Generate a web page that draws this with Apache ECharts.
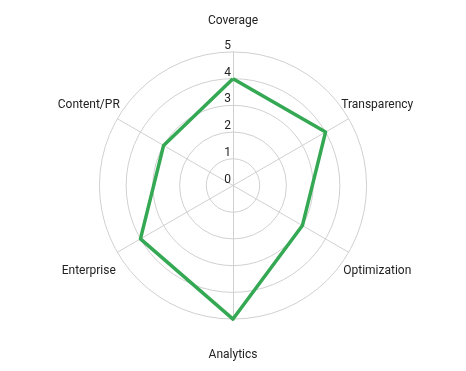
<!DOCTYPE html>
<html>
<head>
<meta charset="utf-8">
<script src="https://cdn.jsdelivr.net/npm/echarts@6/dist/echarts.min.js"></script>
<style>html,body{margin:0;padding:0;background:#fff}#c{width:466px;height:371px}</style>
</head>
<body>
<div id="c"></div>
<script>
// clockwise from top
const categories = ['Coverage', 'Transparency', 'Optimization', 'Analytics', 'Enterprise', 'Content/PR'];
const values = [4, 4, 3, 5, 4, 3];
const maxValue = 5;

// ECharts radar runs counter-clockwise; reorder so the picture runs clockwise
const order = [0].concat(categories.map((_, i) => i).slice(1).reverse());
const radarCats = order.map(i => categories[i]);
const radarVals = order.map(i => values[i]);

const chart = echarts.init(document.getElementById('c'), null, {renderer: 'canvas'});
chart.setOption({
  animation: false,
  textStyle: {fontFamily: 'Roboto'},
  radar: {
    center: ['50%', '50%'],
    radius: '72%',
    startAngle: 90,
    splitNumber: 5,
    shape: 'circle',
    nameGap: 33,
    axisName: {
      color: '#222', fontSize: 12, fontFamily: 'Roboto', align: 'center', verticalAlign: 'middle',
      formatter: n => '{a|' + n + '}',
      rich: {a: {color: '#222', fontSize: 12, fontFamily: 'Roboto', padding: [5, 0, 0, 0]}}
    },
    splitArea: {show: false},
    splitLine: {lineStyle: {color: '#d0d0d0', width: 1}},
    axisLine: {lineStyle: {color: '#d0d0d0', width: 1}},
    axisTick: {show: false},
    indicator: radarCats.map((c, i) => {
      const o = {name: c, min: 0, max: maxValue};
      if (i === 0) o.axisLabel = {show: true, color: '#222', fontSize: 12, fontFamily: 'Roboto', margin: 2, verticalAlign: 'bottom'};
      return o;
    })
  },
  series: [{
    type: 'radar',
    symbol: 'none',
    lineStyle: {color: '#34a853', width: 3.5},
    itemStyle: {color: '#34a853'},
    data: [{value: radarVals, name: 'Score'}]
  }]
});
</script>
</body>
</html>
